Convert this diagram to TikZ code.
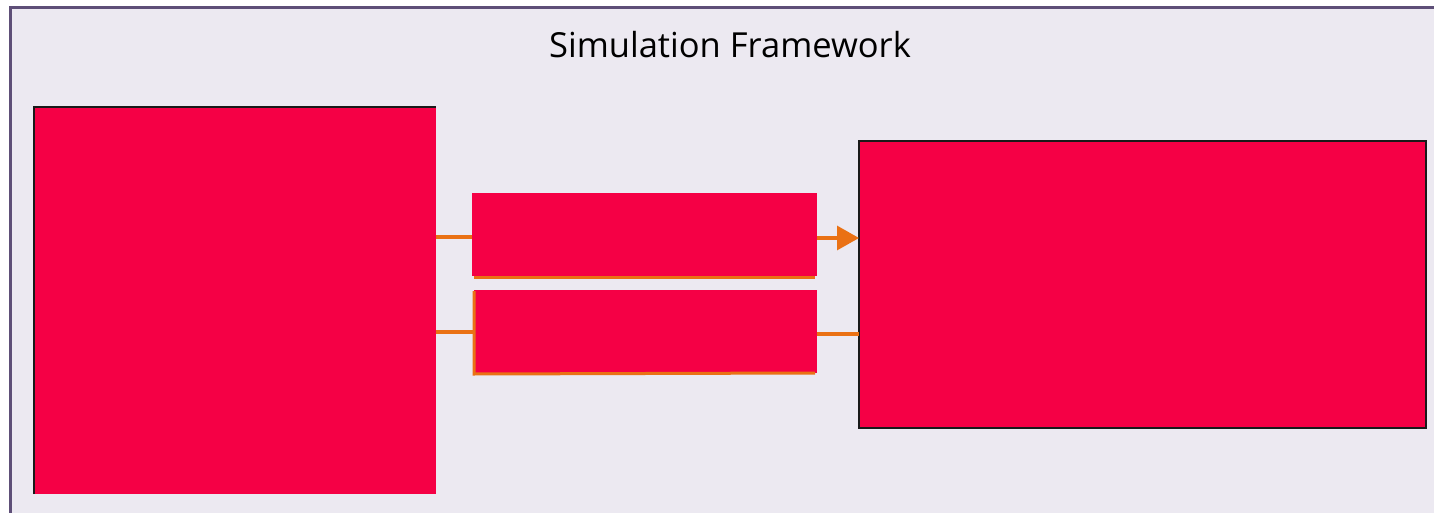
\documentclass[tikz,border=0pt]{standalone}
\usepackage{fontspec}
\setmainfont{Open Sans}
\usetikzlibrary{arrows.meta}
\definecolor{framefill}{HTML}{ECE9F1}
\definecolor{framedraw}{HTML}{5E4F78}
\definecolor{blockred}{HTML}{F50045}
\definecolor{linkorange}{HTML}{EA7114}
\tikzset{
  block/.style={fill=blockred, draw=none, inner sep=0pt, outer sep=0pt, anchor=north west},
  link/.style={draw=linkorange, line width=3.2pt},
  edgeline/.style={draw=black!90, line width=1.1pt},
}
\begin{document}
\begin{tikzpicture}[x=1pt, y=-1pt]
  \useasboundingbox (0,0) rectangle (1434,513);
  \fill[white] (0,0) rectangle (1434,513);
  \clip (0,0) rectangle (1434,513);
  % outer framework panel
  \draw[framedraw, fill=framefill, line width=3pt] (10,8) rectangle (1450,530);
  \node[font=\fontsize{34.5}{40}\selectfont] (title) at (730,45) {Simulation Framework};

  % left block
  \node[block, minimum width=402pt, minimum height=387pt] (src) at (34,107) {};
  \draw[edgeline] (src.south west) -- (src.north west) -- (src.north east);

  % middle blocks
  \node[block, minimum width=345pt, minimum height=83pt] (upper) at (472,193) {};
  \node[block, minimum width=343pt, minimum height=83pt] (lower) at (474,290) {};
  \draw[link, line width=3pt] ([xshift=2pt,yshift=-1.5pt]upper.south west) -- ([xshift=-2pt,yshift=-1.5pt]upper.south east);
  \draw[link, line width=3pt] ([yshift=-1pt]lower.north west) -- ([yshift=-1pt]lower.south west) -- ([xshift=-2pt]lower.south east);

  % right block
  \node[block, draw=black!90, line width=1.6pt, minimum width=567pt, minimum height=287pt] (dst) at (859,141) {};

  % connectors
  \draw[link] (src.east |- 0,237) -- (upper.west |- 0,237);
  \draw[link, -{Triangle[length=22pt,width=24pt]}] (upper.east |- 0,238) -- (dst.west |- 0,238);
  \draw[link] (src.east |- 0,332) -- (lower.west |- 0,332);
  \draw[link] (lower.east |- 0,334) -- (dst.west |- 0,334);
\end{tikzpicture}
\end{document}
